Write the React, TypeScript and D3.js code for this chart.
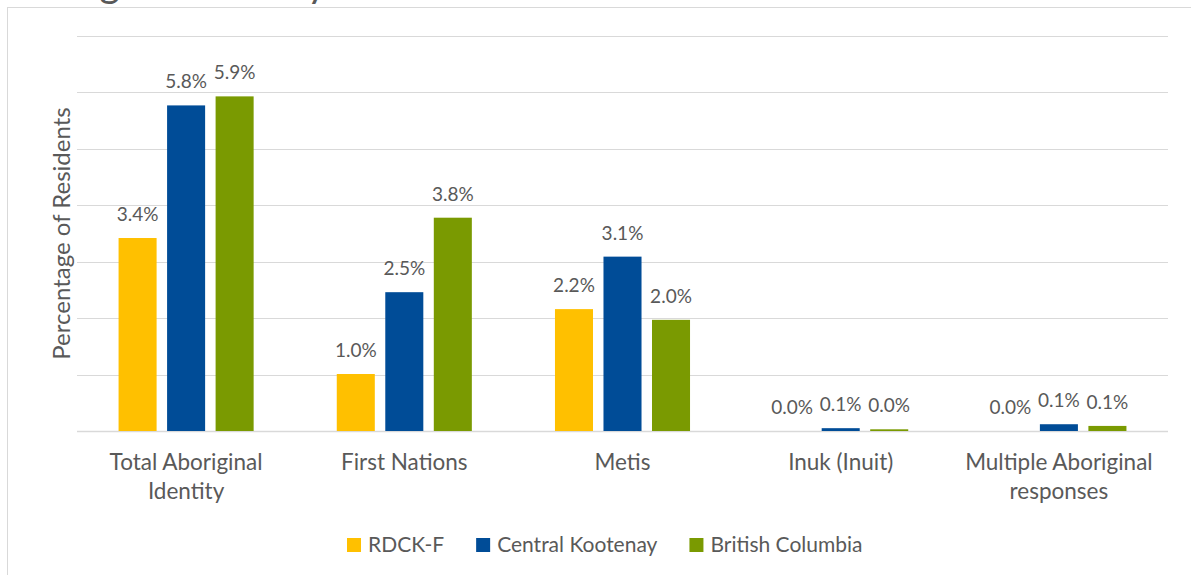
import React, { useEffect, useRef } from "react";
import * as d3 from "d3";

const categories = [
  "Total Aboriginal Identity",
  "First Nations",
  "Metis",
  "Inuk (Inuit)",
  "Multiple Aboriginal responses",
];
const categoryLines = [
  ["Total Aboriginal", "Identity"],
  ["First Nations"],
  ["Metis"],
  ["Inuk (Inuit)"],
  ["Multiple Aboriginal", "responses"],
];
const seriesNames = ["RDCK-F", "Central Kootenay", "British Columbia"];
const seriesColors = ["#FFC000", "#004C97", "#7A9A01"];
const rdckF = [3.42, 1.01, 2.16, 0.0, 0.0];
const centralKootenay = [5.77, 2.46, 3.09, 0.05, 0.12];
const britishColumbia = [5.93, 3.78, 1.97, 0.03, 0.09];
const labelsRdck = ["3.4%", "1.0%", "2.2%", "0.0%", "0.0%"];
const labelsCk = ["5.8%", "2.5%", "3.1%", "0.1%", "0.1%"];
const labelsBc = ["5.9%", "3.8%", "2.0%", "0.0%", "0.1%"];
const yTicks = [0, 1, 2, 3, 4, 5, 6, 7];
const titleText = "Aboriginal Identity";
const yAxisTitle = "Percentage of Residents";

const W = 1191;
const H = 575;
const FONT = "Lato, 'Open Sans', sans-serif";
const TEXT = "#595959";

export default function App() {
  const ref = useRef<SVGSVGElement | null>(null);

  useEffect(() => {
    const svg = d3.select(ref.current);
    svg.selectAll("*").remove();

    const left = 77, right = 1168, top = 36, bottom = 431;
    const values = [rdckF, centralKootenay, britishColumbia];
    const labels = [labelsRdck, labelsCk, labelsBc];

    // chart border
    svg.append("rect")
      .attr("x", 7.5).attr("y", 7.5)
      .attr("width", 1400).attr("height", 800)
      .attr("fill", "#fff").attr("stroke", "#d9d9d9").attr("stroke-width", 1);

    // title (mostly out of view, as in the reference)
    svg.append("text")
      .attr("x", 3).attr("y", -3)
      .attr("font-family", FONT).attr("font-size", 40)
      .attr("fill", TEXT).text(titleText);

    const y = d3.scaleLinear().domain([0, 7]).range([bottom, top]);
    const x0 = d3.scaleBand<string>().domain(categories).range([left, right])
      .paddingInner(0.381).paddingOuter(0.1905);
    const x1 = d3.scaleBand<string>().domain(seriesNames).range([0, x0.bandwidth()])
      .paddingInner(0.216).paddingOuter(0);

    // gridlines
    svg.append("g").selectAll("line").data(yTicks).join("line")
      .attr("x1", left).attr("x2", right)
      .attr("y1", (d) => Math.round(y(d)) + 0.5).attr("y2", (d) => Math.round(y(d)) + 0.5)
      .attr("stroke", "#d9d9d9").attr("stroke-width", (d) => (d === 0 ? 1.5 : 1));

    // bars
    const groups = svg.append("g").selectAll("g").data(categories).join("g")
      .attr("transform", (c) => `translate(${x0(c)},0)`);
    groups.each(function (c, ci) {
      const g = d3.select(this);
      seriesNames.forEach((s, si) => {
        const v = values[si][ci];
        g.append("rect")
          .attr("x", x1(s)!).attr("width", x1.bandwidth())
          .attr("y", y(v)).attr("height", y(0) - y(v))
          .attr("fill", seriesColors[si]);
        g.append("text")
          .attr("x", x1(s)! + x1.bandwidth() / 2)
          .attr("y", y(v) - 17)
          .attr("text-anchor", "middle")
          .attr("font-family", FONT).attr("font-size", 19)
          .attr("fill", TEXT).text(labels[si][ci]);
      });
    });

    // category labels
    categories.forEach((c, ci) => {
      const t = svg.append("text")
        .attr("text-anchor", "middle")
        .attr("font-family", FONT).attr("font-size", 22.5)
        .attr("fill", TEXT);
      categoryLines[ci].forEach((line, li) => {
        t.append("tspan")
          .attr("x", x0(c)! + x0.bandwidth() / 2)
          .attr("y", 470 + li * 29)
          .text(line);
      });
    });

    // y axis title
    svg.append("text")
      .attr("transform", `translate(70,${(top + bottom) / 2}) rotate(-90)`)
      .attr("text-anchor", "middle")
      .attr("font-family", FONT).attr("font-size", 24)
      .attr("fill", TEXT).text(yAxisTitle);

    // legend
    const legend = svg.append("g");
    let lx = 347;
    seriesNames.forEach((s, si) => {
      legend.append("rect")
        .attr("x", lx).attr("y", 538).attr("width", 14).attr("height", 14)
        .attr("fill", seriesColors[si]);
      const t = legend.append("text")
        .attr("x", lx + 21).attr("y", 552)
        .attr("font-family", FONT).attr("font-size", 21)
        .attr("fill", TEXT).text(s);
      const w = (t.node() as SVGTextElement).getComputedTextLength();
      lx += 21 + w + 32;
    });
  }, []);

  return (
    <div style={{ position: "absolute", left: 0, top: 0 }}>
      <svg ref={ref} width={W} height={H} style={{ display: "block" }} />
    </div>
  );
}
